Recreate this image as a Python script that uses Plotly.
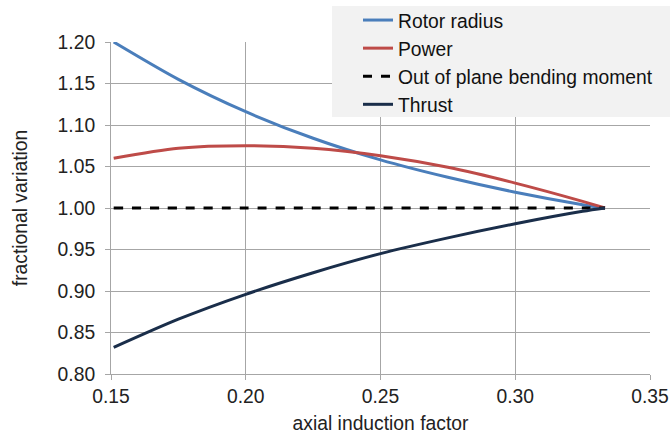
import plotly.graph_objects as go

# axial induction factor
a_vals = [0.151, 0.175, 0.200, 0.225, 0.250, 0.275, 0.300, 0.325, 0.3333]
rotor_radius = [1.200, 1.155, 1.116, 1.084, 1.058, 1.037, 1.019, 1.004, 1.000]
power = [1.060, 1.072, 1.075, 1.072, 1.063, 1.049, 1.030, 1.008, 1.000]
bending_moment = [1.000, 1.000, 1.000, 1.000, 1.000, 1.000, 1.000, 1.000, 1.000]
thrust = [0.832, 0.866, 0.896, 0.922, 0.945, 0.964, 0.981, 0.996, 1.000]

x_ticks = [0.15, 0.20, 0.25, 0.30, 0.35]
y_ticks = [0.80, 0.85, 0.90, 0.95, 1.00, 1.05, 1.10, 1.15, 1.20]

FONT = "Liberation Sans, Arial, sans-serif"
GRID = "#a6a6a6"
FS = 19.3

fig = go.Figure()
series = [
    ("Rotor radius", rotor_radius, "#4A7EBB", "solid"),
    ("Power", power, "#BE4B48", "solid"),
    ("Out of plane bending moment", bending_moment, "#000000", "dash"),
    ("Thrust", thrust, "#1A2E4A", "solid"),
]
for i, (name, ys, col, dash) in enumerate(series):
    fig.add_trace(go.Scatter(
        x=a_vals, y=ys, mode="lines", name=name, legendgroup=f"g{i}",
        line=dict(color=col, width=3, dash=dash, shape="spline", smoothing=0.8),
    ))

fig.add_shape(type="rect", xref="paper", yref="paper",
              x0=(332 - 111) / 539, x1=(672 - 111) / 539,
              y0=(374 - 117) / 332, y1=(374 - 6) / 332,
              fillcolor="#f2f2f2", line=dict(width=0), layer="above")

fig.update_layout(
    width=670, height=437,
    margin=dict(l=111, r=20, t=42, b=63, autoexpand=False),
    paper_bgcolor="white", plot_bgcolor="white",
    font=dict(family=FONT, size=FS, color="#222222"),
    showlegend=True,
    legend=dict(
        xref="container", yref="container",
        x=358 / 670, y=1 - 1 / 437, xanchor="left", yanchor="top",
        bgcolor="rgba(0,0,0,0)", borderwidth=0,
        font=dict(family=FONT, size=FS, color="#111111"),
        traceorder="grouped", tracegroupgap=0,
        itemwidth=30,
    ),
    xaxis=dict(
        range=[0.15, 0.35], tickvals=x_ticks, tickformat=".2f",
        showgrid=True, gridcolor=GRID, gridwidth=1,
        showline=True, linecolor=GRID, linewidth=1,
        ticks="outside", ticklen=5, tickcolor=GRID,
        tickfont=dict(size=FS), zeroline=False,
        title=dict(text="axial induction factor", font=dict(size=FS), standoff=10),
    ),
    yaxis=dict(
        range=[0.80, 1.20], tickvals=y_ticks, tickformat=".2f",
        showgrid=True, gridcolor=GRID, gridwidth=1,
        showline=True, linecolor=GRID, linewidth=1,
        ticks="outside", ticklen=5, tickcolor=GRID,
        tickfont=dict(size=FS), zeroline=False, ticklabelstandoff=6,
        title=dict(text="fractional variation", font=dict(size=FS), standoff=24),
    ),
)

fig.write_html("out.html", config={"displayModeBar": False},
               post_script="document.body.style.margin='0';")
